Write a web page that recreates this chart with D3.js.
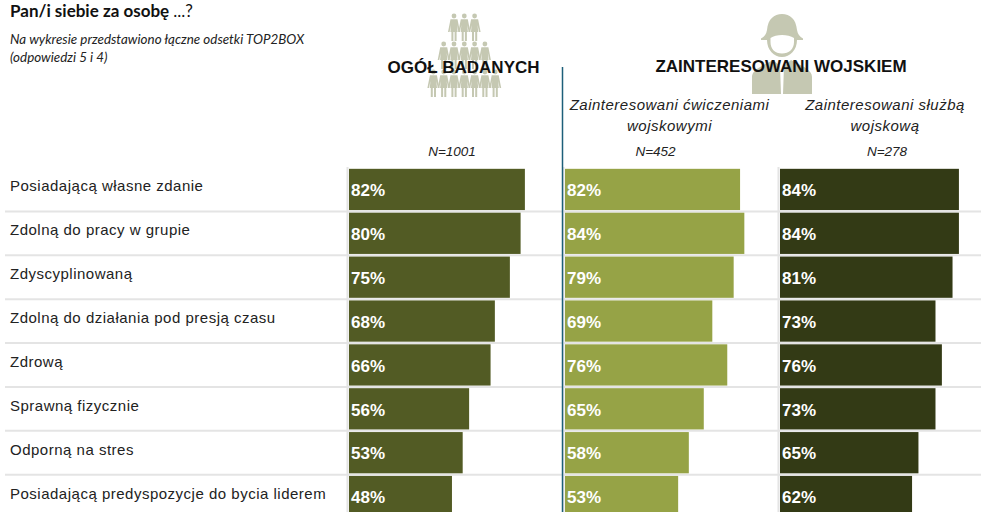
<!DOCTYPE html>
<html><head><meta charset="utf-8">
<script src="https://cdn.jsdelivr.net/npm/d3@7/dist/d3.min.js"></script>
<style>html,body{margin:0;padding:0;background:#fff}svg{display:block}</style>
</head><body><div id="c"></div>
<script>
const categories = ["Posiadającą własne zdanie","Zdolną do pracy w grupie","Zdyscyplinowaną","Zdolną do działania pod presją czasu","Zdrową","Sprawną fizycznie","Odporną na stres","Posiadającą predyspozycje do bycia liderem"];
const ogol = [82,80,75,68,66,56,53,48];
const cwiczenia = [82,84,79,69,76,65,58,53];
const sluzba = [84,84,81,73,76,73,65,62];
const sampleLabels = ["N=1001","N=452","N=278"];
const crowdRows = [3,5,7];

const W=981,H=512;
const svg=d3.select("#c").append("svg").attr("width",W).attr("height",H);
const sans="'Liberation Sans',Arial,sans-serif", cal="Lato,'Open Sans',sans-serif";
const iconC="#c5c8b2", grid="#e4e4e4";

// icons
function person(g,x,y){
  g.append("circle").attr("cx",x).attr("cy",y).attr("r",2.4).attr("fill",iconC);
  const p=[[-3.5,3.2],[3.5,3.2],[6,16],[4.4,16],[3,9],[3.6,16],[2.6,16],[2.6,25],[.6,25],[.6,16],[-.6,16],[-.6,25],[-2.6,25],[-2.6,16],[-3.6,16],[-3,9],[-4.4,16],[-6,16]];
  g.append("path").attr("fill",iconC).attr("d","M"+p.map(d=>(x+d[0])+" "+(y+d[1])).join("L")+"Z");
}
const crowd=svg.append("g");
crowdRows.forEach((n,r)=>{
  for(let i=0;i<n;i++) person(crowd,464.3+(i-(n-1)/2)*10.3,16+r*28);
});
svg.append("path").attr("fill",iconC).attr("fill-rule","evenodd").attr("d",
 "M761 38.5Q766 36 767 30C768 19 774 14 782 14C790 14 796 19 797 30Q798 36 803 38.5L803 40L797 40C797 50 790 57 782 57C774 57 767 50 767 40L761 40Z M770.5 38C776 34 788 34 794 38L794 42C794 49 789 53.5 782 53.5C775 53.5 770.5 49 770.5 42Z");
svg.append("path").attr("fill",iconC).attr("d","M752 94V77C752 70 760 67 773 60L780 66L781 94Z M812 94V77C812 70 804 67 791 60L784 66L783 94Z");

// titles
svg.append("text").attr("x",10).attr("y",17).attr("font-family",cal).attr("font-size",17).attr("fill","#111")
 .call(t=>{t.append("tspan").attr("font-weight",700).text("Pan/i siebie za osobę ");t.append("tspan").text("...?");});
["Na wykresie przedstawiono łączne odsetki TOP2BOX","(odpowiedzi 5 i 4)"].forEach((s,i)=>
 svg.append("text").attr("x",10).attr("y",44+i*18).attr("font-family",cal).attr("font-size",13.4).attr("font-style","italic").attr("fill","#222").text(s));

svg.append("text").attr("x",463.5).attr("y",73).attr("text-anchor","middle").attr("font-family",sans).attr("font-weight",700).attr("font-size",17).attr("fill","#111").text("OGÓŁ BADANYCH");
svg.append("text").attr("x",781).attr("y",72).attr("text-anchor","middle").attr("font-family",sans).attr("font-weight",700).attr("font-size",17).attr("fill","#111").text("ZAINTERESOWANI WOJSKIEM");

[["Zainteresowani ćwiczeniami","wojskowymi",669.5],["Zainteresowani służbą","wojskową",885]].forEach(d=>{
  [d[0],d[1]].forEach((s,i)=>svg.append("text").attr("x",d[2]).attr("y",110+i*21).attr("text-anchor","middle")
    .attr("font-family",sans).attr("font-style","italic").attr("font-size",15).attr("letter-spacing",0.5).attr("fill","#222").text(s));
});
[452,655.5,887].forEach((x,i)=>svg.append("text").attr("x",x).attr("y",156).attr("text-anchor","middle")
   .attr("font-family",sans).attr("font-style","italic").attr("font-size",13.5).attr("fill","#222").text(sampleLabels[i]));

// scales
const y=d3.scaleBand().domain(categories).range([167.5,518.5]).paddingInner(0.06).paddingOuter(0.03);
const rowStep=y.step();
const panels=[{v:ogol,x0:349,c:"#525b24",w:214.5},{v:cwiczenia,x0:565,c:"#96a346",w:213.5},{v:sluzba,x0:780,c:"#333a15",w:213}];

// grid
const g=svg.append("g");
categories.slice(1).forEach(c=>{
  const yy=y(c)-(rowStep-y.bandwidth())/2;
  g.append("line").attr("x1",5).attr("x2",W).attr("y1",yy).attr("y2",yy).attr("stroke",grid).attr("stroke-width",2);
});
panels.forEach(p=>g.append("line").attr("x1",p.x0-1.5).attr("x2",p.x0-1.5).attr("y1",167).attr("y2",H).attr("stroke",grid).attr("stroke-width",2));

panels.forEach(p=>{
  const x=d3.scaleLinear().domain([0,100]).range([p.x0,p.x0+p.w]);
  const s=svg.append("g");
  s.selectAll("rect").data(p.v).join("rect").attr("x",x(0)).attr("y",(d,i)=>y(categories[i])).attr("width",d=>x(d)-x(0)).attr("height",y.bandwidth()).attr("fill",p.c);
  s.selectAll("text").data(p.v).join("text").attr("x",x(0)+2).attr("y",(d,i)=>y(categories[i])+y.bandwidth()/2+6.8)
    .attr("font-family",sans).attr("font-weight",700).attr("font-size",17).attr("fill","#fff").text(d=>d+"%");
});
svg.selectAll(".cat").data(categories).join("text").attr("x",10).attr("y",d=>y(d)+y.bandwidth()/2+2)
  .attr("font-family",sans).attr("font-size",15).attr("letter-spacing",0.5).attr("fill","#222").text(d=>d);
svg.append("line").attr("x1",562.5).attr("x2",562.5).attr("y1",67).attr("y2",H).attr("stroke","#1d5f7a").attr("stroke-width",1.5);
</script></body></html>
